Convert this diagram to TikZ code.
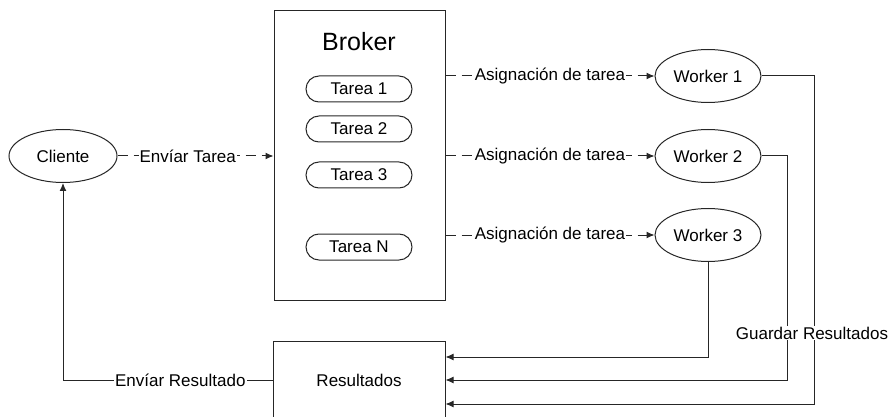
\documentclass[tikz,border=0pt]{standalone}
\usepackage{fontspec}
\setmainfont{Liberation Sans}
\usetikzlibrary{arrows.meta}
\usetikzlibrary{shapes.geometric}
\usetikzlibrary{calc}

\tikzset{
  conn/.style={draw=black!85, line width=1pt},
  tip/.style={-{Latex[length=8pt,width=7pt]}},
  dashconn/.style={conn, tip, dash pattern=on 10pt off 6pt},
  lbl/.style={fill=white, inner sep=1pt, font=\fontsize{17}{19}\selectfont},
  proc/.style={draw=black!85, line width=1pt, ellipse, minimum width=106pt, minimum height=53pt, inner sep=0pt, font=\fontsize{17}{19}\selectfont},
  tarea/.style={draw=black!85, line width=1pt, rounded corners=13pt, minimum width=106pt, minimum height=26pt, inner sep=0pt, font=\fontsize{17}{19}\selectfont},
  caja/.style={draw=black!85, line width=1pt, rectangle, inner sep=0pt}
}

\begin{document}
\begin{tikzpicture}[x=1pt,y=-1pt]
\useasboundingbox (0,0) rectangle (892,417);

% The client
\node[proc, minimum width=108pt] (cliente) at (63,156) {Cliente};

% The broker with its queue of tasks
\node[caja, minimum width=171pt, minimum height=289pt] (broker) at (359.5,155.5) {};
\node[font=\fontsize{25}{28}\selectfont] (titulo) at (359,42) {Broker};
\node[tarea] (t1) at (359,89) {Tarea 1};
\node[tarea] (t2) at (359,129) {Tarea 2};
\node[tarea] (t3) at (359,175) {Tarea 3};
\node[tarea] (tn) at (359,247) {Tarea N};

% The workers
\node[proc] (w1) at (708,76) {Worker 1};
\node[proc] (w2) at (708,156) {Worker 2};
\node[proc] (w3) at (708,235) {Worker 3};

% The results store
\node[caja, minimum width=172pt, minimum height=78pt, font=\fontsize{17}{19}\selectfont] (res) at (359,380) {Resultados};

% Client sends a task
\draw[dashconn] (cliente.east) -- (cliente.east -| broker.west) node[lbl, pos=0.45] {Envíar Tarea};

% Broker assigns tasks
\draw[dashconn] (w1.west -| broker.east) -- (w1.west) node[lbl, midway] {Asignación de tarea};
\draw[dashconn] (w2.west -| broker.east) -- (w2.west) node[lbl, midway] {Asignación de tarea};
\draw[dashconn] (w3.west -| broker.east) -- (w3.west) node[lbl, midway] {Asignación de tarea};

% Workers store their results
\coordinate (c1) at (814,404);
\coordinate (c2) at (787,380);
\coordinate (c3) at (708,357);
\draw[conn, tip] (w1.east) -| (c1) -- (c1 -| res.east);
\draw[conn, tip] (w2.east) -| (c2) -- (c2 -| res.east);
\draw[conn, tip] (w3.south) -- (c3) -- (c3 -| res.east);
\node[lbl] (guardar) at (812,333) {Guardar Resultados};

% Result goes back to the client
\draw[conn, tip] (res.west) -| (cliente.south) node[lbl, pos=0.22] {Envíar Resultado};
\end{tikzpicture}
\end{document}
